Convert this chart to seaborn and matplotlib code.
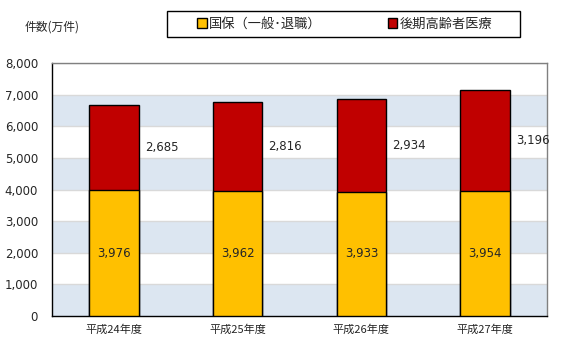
import matplotlib
matplotlib.use('Agg')
import matplotlib.pyplot as plt
import seaborn as sns
import pandas as pd
from matplotlib.patches import Patch, Rectangle

years = ['平成24年度', '平成25年度', '平成26年度', '平成27年度']
kokuho = [3976, 3962, 3933, 3954]
kouki = [2685, 2816, 2934, 3196]
yticks = [0, 1000, 2000, 3000, 4000, 5000, 6000, 7000, 8000]

sns.set_style('white')
plt.rcParams['font.family'] = ['Noto Sans CJK JP', 'DejaVu Sans']
plt.rcParams['font.size'] = 9

df = pd.DataFrame({'year': years, 'kokuho': kokuho, 'kouki': kouki})
df['total'] = df['kokuho'] + df['kouki']

fig = plt.figure(figsize=(5.67, 3.54), dpi=100)
ax = fig.add_axes([0.0917, 0.107, 0.873, 0.715])

# alternating background bands
for i in range(0, 8):
    if i % 2 == 0:
        ax.axhspan(i * 1000, (i + 1) * 1000, color='#dce6f1', zorder=0, lw=0)
for y in yticks[1:]:
    ax.axhline(y, color='#d9d9d9', lw=1, zorder=0.5)

sns.barplot(data=df, x='year', y='total', color='#c00000', width=0.4,
            edgecolor='black', linewidth=1, saturation=1, ax=ax, zorder=2)
sns.barplot(data=df, x='year', y='kokuho', color='#ffc000', width=0.4,
            edgecolor='black', linewidth=1, saturation=1, ax=ax, zorder=3)

for i, (a, b) in enumerate(zip(kokuho, kouki)):
    ax.text(i, a / 2, f'{a:,}', ha='center', va='center', fontsize=8.5,
            family='DejaVu Sans', zorder=4)
    ax.text(i + 0.25, a + b / 2, f'{b:,}', ha='left', va='center', fontsize=8.5,
            family='DejaVu Sans', zorder=4)

ax.set_ylim(0, 8000)
ax.set_xlim(-0.5, 3.5)
ax.set_yticks(yticks)
ax.set_yticklabels([f'{v:,}' for v in yticks], fontsize=8.5, family='DejaVu Sans')
ax.set_xticks(range(4))
ax.set_xticklabels(years, fontsize=8)
ax.set_xticks([0.5, 1.5, 2.5], minor=True)
ax.tick_params(axis='x', which='major', length=0, pad=6)
ax.tick_params(axis='x', which='minor', length=4, direction='in', color='black')
ax.tick_params(axis='y', length=0, pad=10)
ax.set_xlabel('')
ax.set_ylabel('')

for s in ['left', 'bottom']:
    ax.spines[s].set_color('black')
    ax.spines[s].set_linewidth(1)
for s in ['top', 'right']:
    ax.spines[s].set_color('#808080')
    ax.spines[s].set_linewidth(1)

fig.text(25 / 567, 1 - 27 / 354, '件数(万件)', ha='left', va='center', fontsize=8.5)

# legend frame
fig.add_artist(Rectangle((167 / 567, 1 - 37 / 354), 353 / 567, 26 / 354,
                         transform=fig.transFigure, facecolor='white',
                         edgecolor='black', lw=1))
handles = [Patch(facecolor='#ffc000', edgecolor='black', label='国保（一般･退職）'),
           Patch(facecolor='#c00000', edgecolor='black', label='後期高齢者医療')]
leg = fig.legend(handles=handles, ncol=2, loc='center',
                 bbox_to_anchor=(345 / 567, 1 - 24 / 354), frameon=False,
                 handlelength=0.7, handleheight=0.7, handletextpad=0.2,
                 columnspacing=5, fontsize=9.5)

fig.savefig('out.png', dpi=100)
